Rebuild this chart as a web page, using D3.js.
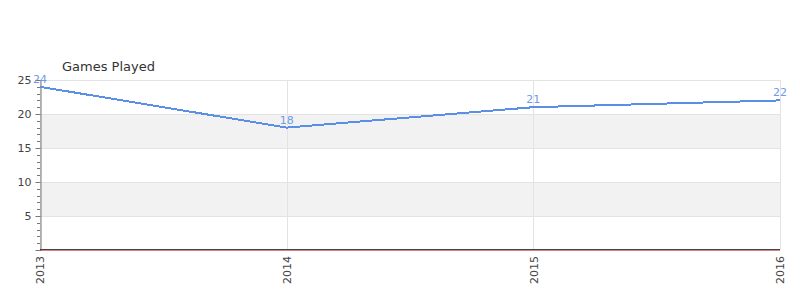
<!DOCTYPE html>
<html>
<head>
<meta charset="utf-8">
<script src="https://cdn.jsdelivr.net/npm/d3@7"></script>
<style>
body { margin: 0; background: #fff; }
text { font-family: "DejaVu Sans", sans-serif; }
</style>
</head>
<body>
<div id="chart"></div>
<script>
// данные графика
const years = ["2013", "2014", "2015", "2016"];
const games = [24, 18, 21, 22];
const yTicks = [5, 10, 15, 20, 25];
const title = "Games Played";

const width = 800, height = 300;
const margin = {top: 80, right: 20, bottom: 50, left: 40};

let svg = d3.select("#chart").append("svg")
    .attr("width", width).attr("height", height);

let x = d3.scalePoint().domain(years).range([margin.left, width - margin.right]);
let y = d3.scaleLinear().domain([0, 25]).range([height - margin.bottom, margin.top]);

// полосы
let bands = [[5, 10], [15, 20]];
svg.append("g").selectAll("rect").data(bands).enter().append("rect")
    .attr("x", margin.left).attr("width", width - margin.right - margin.left)
    .attr("y", d => y(d[1])).attr("height", d => y(d[0]) - y(d[1]))
    .attr("fill", "#f2f2f2");

// сетка
svg.append("g").selectAll("line").data(yTicks).enter().append("line")
    .attr("x1", margin.left).attr("x2", width - margin.right)
    .attr("y1", d => Math.round(y(d)) + 0.5).attr("y2", d => Math.round(y(d)) + 0.5)
    .attr("stroke", "#e3e3e3");
svg.append("g").selectAll("line").data(years).enter().append("line")
    .attr("x1", d => Math.round(x(d)) + 0.5).attr("x2", d => Math.round(x(d)) + 0.5)
    .attr("y1", y(25)).attr("y2", y(0))
    .attr("stroke", "#e3e3e3");

// ось Y
let yAxis = svg.append("g").attr("transform", `translate(${margin.left + 0.5},0)`)
    .call(d3.axisLeft(y).tickValues(yTicks).tickSize(5).tickPadding(4));
yAxis.select(".domain").attr("stroke", "#777");
yAxis.selectAll(".tick line").attr("stroke", "#777");
yAxis.selectAll("text").attr("fill", "#444").attr("font-size", 11);
let minor = d3.range(1, 26).filter(v => v % 5 !== 0);
svg.append("g").selectAll("line").data(minor).enter().append("line")
    .attr("x1", margin.left - 3).attr("x2", margin.left)
    .attr("y1", d => Math.round(y(d)) + 0.5).attr("y2", d => Math.round(y(d)) + 0.5)
    .attr("stroke", "#777");

// ось X
let xAxis = svg.append("g").attr("transform", `translate(0,${height - margin.bottom})`)
    .call(d3.axisBottom(x).tickSize(0).tickPadding(6));
xAxis.select(".domain").remove();
xAxis.selectAll("text")
    .attr("transform", "rotate(-90)")
    .attr("text-anchor", "end")
    .attr("dy", "0.35em").attr("x", -6).attr("y", 0)
    .attr("fill", "#444").attr("font-size", 11);
svg.append("line").attr("x1", margin.left).attr("x2", width - margin.right)
    .attr("y1", y(0) + 0.5).attr("y2", y(0) + 0.5).attr("stroke", "#b33").attr("stroke-opacity", 0.6);
svg.append("line").attr("x1", margin.left).attr("x2", width - margin.right)
    .attr("y1", y(0) - 0.5).attr("y2", y(0) - 0.5).attr("stroke", "#444");

// линия
let line = d3.line().x((d, i) => x(years[i])).y(d => y(d));
svg.append("path").datum(games)
    .attr("d", line).attr("fill", "none")
    .attr("stroke", "#5b8fe6").attr("stroke-width", 2)
    .attr("shape-rendering", "crispEdges");

// подписи
svg.append("g").selectAll("text").data(games).enter().append("text")
    .attr("x", (d, i) => x(years[i]))
    .attr("y", d => y(d) - 4)
    .attr("text-anchor", "middle")
    .attr("font-size", 11).attr("fill", "#6f9be8")
    .text(d => d);

svg.append("text").attr("x", 62).attr("y", 71)
    .attr("font-size", 13).attr("fill", "#333").text(title);
</script>
</body>
</html>
